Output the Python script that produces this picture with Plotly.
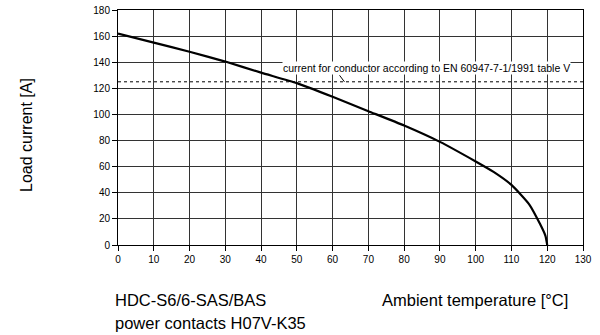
import plotly.graph_objects as go

# derating curve
temperature = [0, 10, 20, 30, 40, 50, 60, 70, 80, 90, 100, 105, 110, 115, 118, 119.5, 120]
load_current = [162, 155, 148, 140.5, 132, 124, 113.5, 102.5, 91.5, 79, 64, 56, 46, 31, 16, 7, 0]

conductor_limit = 125
x_ticks = list(range(0, 131, 10))
y_ticks = list(range(0, 181, 20))

FONT = "Liberation Sans, Arial, sans-serif"

fig = go.Figure()

# dotted limit line for the conductor
fig.add_trace(go.Scatter(
    x=[x_ticks[0], x_ticks[-1]], y=[conductor_limit, conductor_limit],
    mode="lines", line=dict(color="black", width=1, dash="dot"),
    hoverinfo="skip",
))

# load current curve
fig.add_trace(go.Scatter(
    x=temperature, y=load_current, mode="lines",
    line=dict(color="black", width=2.2, shape="spline", smoothing=0.5),
))

axis_style = dict(
    showgrid=True, gridcolor="#333333", gridwidth=1,
    showline=True, linecolor="black", linewidth=1, mirror=True, automargin=False,
    ticks="outside", ticklen=5, tickcolor="black", zeroline=False,
    tickfont=dict(family=FONT, size=10, color="black"),
)
fig.update_xaxes(range=[0, 130], tickvals=x_ticks, **axis_style)
fig.update_yaxes(range=[0, 180], tickvals=y_ticks, **axis_style)

# label for the limit line and its small leader
fig.add_annotation(
    x=86.2, y=135.5, text="current for conductor according to EN 60947-7-1/1991 table V",
    showarrow=False, bgcolor="white", font=dict(family=FONT, size=10.5, color="black"),
    borderpad=0,
)
fig.add_annotation(
    x=63.3, y=conductor_limit, text="", showarrow=True, arrowhead=0,
    arrowwidth=1, arrowcolor="black", ax=-6, ay=-8,
)

# axis titles and captions
fig.add_annotation(
    xref="paper", yref="paper", x=-0.197, y=0.47, xanchor="center", yanchor="middle",
    text="Load current [A]", textangle=-90, showarrow=False,
    font=dict(family=FONT, size=16, color="black"),
)
fig.add_annotation(
    xref="paper", yref="paper", x=-0.0118, y=-0.236, xanchor="left", yanchor="middle",
    text="HDC-S6/6-SAS/BAS", showarrow=False,
    font=dict(family=FONT, size=16.5, color="black"),
)
fig.add_annotation(
    xref="paper", yref="paper", x=-0.0118, y=-0.334, xanchor="left", yanchor="middle",
    text="power contacts H07V-K35", showarrow=False,
    font=dict(family=FONT, size=16.5, color="black"),
)
fig.add_annotation(
    xref="paper", yref="paper", x=0.5645, y=-0.236, xanchor="left", yanchor="middle",
    text="Ambient temperature [°C]", showarrow=False,
    font=dict(family=FONT, size=16.5, color="black"),
)

fig.update_layout(
    width=600, height=335, showlegend=False,
    margin=dict(l=117.5, r=17.3, t=10, b=90),
    plot_bgcolor="white", paper_bgcolor="white",
)

# drop the default page margin so the figure sits at the window's corner
fig.write_html(
    "out.html",
    config={"displayModeBar": False},
    post_script="document.body.style.margin = '0';",
)
